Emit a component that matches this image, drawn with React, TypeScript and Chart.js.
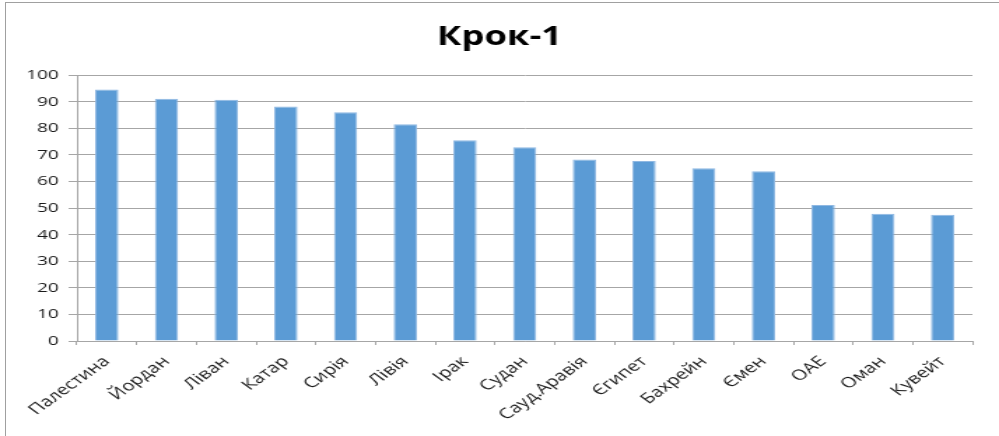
import React, { useEffect, useRef } from "react";
import { Chart, registerables } from "chart.js";

Chart.register(...registerables);

const title = "Крок-1";
const categories = [
  "Палестина", "Йордан", "Ліван", "Катар", "Сирія", "Лівія", "Ірак", "Судан",
  "Сауд.Аравія", "Єгипет", "Бахрейн", "Ємен", "ОАЕ", "Оман", "Кувейт",
];
const values = [94.6, 91.1, 90.8, 88.2, 86.1, 81.5, 75.5, 72.9, 68.3, 67.7, 65.0, 63.9, 51.2, 47.9, 47.5];
const yMin = 0;
const yMax = 100;
const yStep = 10;

const STRETCH = 1.4;
const W = 999;
const H = 436;
const CW = Math.round(W / STRETCH);
const FONT = "'Open Sans', sans-serif";
const PADX = CW - Math.round(973 / STRETCH);

export default function App() {
  const ref = useRef<HTMLCanvasElement | null>(null);
  useEffect(() => {
    document.body.style.margin = "0";
    const chart = new Chart(ref.current as HTMLCanvasElement, {
      type: "bar",
      data: {
        labels: categories,
        datasets: [
          {
            data: values,
            backgroundColor: "#5b9bd5",
            borderColor: "#8fb8e2",
            borderWidth: 1,
            categoryPercentage: 1,
            barPercentage: 0.39,
          },
        ],
      },
      options: {
        animation: false,
        responsive: true,
        maintainAspectRatio: false,
        layout: { padding: { left: PADX, right: PADX, top: 0, bottom: 0 } },
        plugins: {
          legend: { display: false },
          tooltip: { enabled: false },
          title: {
            display: true,
            text: title,
            color: "#000",
            font: { family: FONT, size: 26, weight: "bold" },
            padding: { top: 22, bottom: 22 },
          },
        },
        scales: {
          x: {
            grid: {
              offset: true,
              drawOnChartArea: false,
              drawTicks: true,
              tickLength: 4,
              color: "#a6a6a6",
            },
            border: { color: "#a6a6a6", width: 1 },
            ticks: {
              color: "#1a1a1a",
              font: { family: FONT, size: 14.5 },
              maxRotation: 45,
              minRotation: 45,
              padding: 8,
              autoSkip: false,
            },
            afterFit: (s: any) => {
              s.height = H - 341;
            },
          },
          y: {
            min: yMin,
            max: yMax,
            grid: { color: "#a6a6a6", tickLength: 6 },
            border: { color: "#a6a6a6", width: 1 },
            ticks: {
              stepSize: yStep,
              color: "#1a1a1a",
              font: { family: FONT, size: 13.5 },
              padding: 7,
            },
            afterFit: (s: any) => {
              s.width = Math.round(77 / STRETCH) - PADX;
            },
          },
        },
      },
    });
    return () => chart.destroy();
  }, []);

  return (
    <div style={{ position: "fixed", left: 0, top: 0, width: W, height: H, overflow: "hidden", background: "#fff" }}>
      <div
        style={{
          position: "absolute",
          left: 5,
          top: 2,
          width: 3000,
          height: 3000,
          borderLeft: "1px solid #a0a0a0",
          borderTop: "1px solid #a0a0a0",
        }}
      />
      <div
        style={{
          position: "absolute",
          left: 0,
          top: 0,
          width: CW,
          height: H,
          transform: `scaleX(${W / CW})`,
          transformOrigin: "0 0",
        }}
      >
        <canvas ref={ref} />
      </div>
    </div>
  );
}
